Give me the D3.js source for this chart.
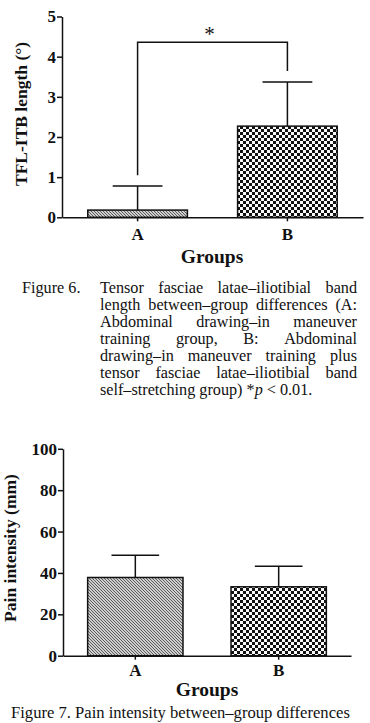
<!DOCTYPE html>
<html lang="en">
<head>
<meta charset="utf-8">
<title>TFL-ITB length and pain intensity between-group differences</title>
<script src="https://d3js.org/d3.v7.min.js"></script>
<style>
        body {
            margin: 0;
            background: #fff;
        }
        svg text {
            font-family: "Liberation Serif", "Times New Roman", serif;
            fill: #111;
        }
        .axis path,
        .axis line {
            fill: none;
            stroke: #111;
            stroke-width: 1.5;
        }
        .axis text {
            font-weight: bold;
        }
        .caption {
            font-size: 16.2px;
        }
</style>
</head>
<body>
<div id="figures"></div>
<script>

  // data
  var groups = ["A", "B"];
  var tflMean = [0.18, 2.27];
  var tflSd = [0.60, 1.10];
  var tflTicks = [0, 1, 2, 3, 4, 5];
  // bracket: left leg bottom, bracket top, right leg bottom (degrees)
  var tflBracket = [1.05, 4.36, 3.64];

  var painMean = [37.8, 33.3];
  var painSd = [10.7, 9.9];
  var painTicks = [0, 20, 40, 60, 80, 100];

  var caption6First = "Figure 6.";
  var caption6Lines = [
    "Tensor fasciae latae\u2013iliotibial band",
    "length between\u2013group differences (A:",
    "Abdominal drawing\u2013in maneuver",
    "training group, B: Abdominal",
    "drawing\u2013in maneuver training plus",
    "tensor fasciae latae\u2013iliotibial band"
  ];
  var caption7 = "Figure 7. Pain intensity between\u2013group differences";

  var patterns = ["hatch", "checks"];

  var W = 370, H = 723;

  var svg = d3.select("#figures")
    .append("svg")
      .attr("width", W)
      .attr("height", H);

  svg.append("rect")
    .attr("width", W)
    .attr("height", H)
    .attr("fill", "#fff");

  function makePatterns() {
    var defs = svg.append("defs");

    var hatch = defs.append("pattern")
      .attr("id", "hatch")
      .attr("patternUnits", "userSpaceOnUse")
      .attr("width", 3)
      .attr("height", 3);
    hatch.append("rect")
      .attr("width", 3).attr("height", 3)
      .attr("fill", "#cfcfcf");
    hatch.append("path")
      .attr("d", "M-1,-1 L4,4 M-1,2 L1,4 M2,-1 L4,1")
      .attr("stroke", "#5a5a5a")
      .attr("stroke-width", 1);

    var checks = defs.append("pattern")
      .attr("id", "checks")
      .attr("patternUnits", "userSpaceOnUse")
      .attr("width", 6)
      .attr("height", 6);
    checks.append("rect")
      .attr("width", 6).attr("height", 6)
      .attr("fill", "#fafafa");
    checks.append("rect")
      .attr("width", 3).attr("height", 3)
      .attr("fill", "#111");
    checks.append("rect")
      .attr("x", 3).attr("y", 3)
      .attr("width", 3).attr("height", 3)
      .attr("fill", "#111");
  }

  // one bar chart with error bars
  function drawChart(c) {
    var g = svg.append("g");

    var x = d3.scaleBand()
      .domain(groups)
      .range([c.left, c.right])
      .paddingInner(0.335)
      .paddingOuter(0.172);

    var y = d3.scaleLinear()
      .domain([0, c.max])
      .range([c.bottom, c.top]);

    var rows = groups.map(function(d, i) {
      return {group: d, mean: c.mean[i], sd: c.sd[i], fill: "url(#" + patterns[i] + ")"};
    });

    // error bars (upper only), drawn below the bars
    var capHalf = x.bandwidth() * 0.25;
    g.selectAll(".err")
      .data(rows)
      .enter()
      .append("path")
        .attr("class", "err")
        .attr("fill", "none")
        .attr("stroke", "#111")
        .attr("stroke-width", 1.5)
        .attr("d", function(d) {
          var cx = x(d.group) + x.bandwidth() / 2;
          var yt = y(d.mean + d.sd);
          return "M" + cx + "," + y(d.mean) + "V" + yt +
                 "M" + (cx - capHalf) + "," + yt + "H" + (cx + capHalf);
        });

    g.selectAll(".bar")
      .data(rows)
      .enter()
      .append("rect")
        .attr("class", "bar")
        .attr("x", function(d) { return x(d.group); })
        .attr("width", x.bandwidth())
        .attr("y", function(d) { return y(d.mean); })
        .attr("height", function(d) { return y(0) - y(d.mean); })
        .attr("fill", function(d) { return d.fill; })
        .attr("stroke", "#111")
        .attr("stroke-width", 1.5);

    // Y axis
    var yAxis = g.append("g")
      .attr("class", "axis")
      .attr("transform", "translate(" + c.left + ",0)")
      .call(d3.axisLeft(y)
        .tickValues(c.ticks)
        .tickFormat(d3.format("d"))
        .tickSize(5)
        .tickSizeOuter(0)
        .tickPadding(1));
    yAxis.selectAll("text")
      .style("font-size", c.tickFont + "px");

    // X axis
    var xAxis = g.append("g")
      .attr("class", "axis")
      .attr("transform", "translate(0," + c.bottom + ")")
      .call(d3.axisBottom(x).tickSize(4).tickSizeOuter(0));
    xAxis.selectAll("text")
      .attr("dy", null)
      .attr("y", c.xLabelY)
      .style("font-size", "17px");

    g.append("text")
      .attr("x", c.groupsX)
      .attr("y", c.groupsY)
      .style("text-anchor", "middle")
      .style("font-size", "19.5px")
      .style("font-weight", "bold")
      .text("Groups");

    g.append("text")
      .attr("transform", "translate(" + c.yLabelX + "," + c.yLabelY + ") rotate(-90)")
      .style("text-anchor", "middle")
      .style("font-size", "17.5px")
      .style("font-weight", "bold")
      .text(c.yLabel);

    return {g: g, x: x, y: y};
  }

  function drawBracket(chart, vals) {
    var x = chart.x, y = chart.y;
    var xa = x(groups[0]) + x.bandwidth() / 2;
    var xb = x(groups[1]) + x.bandwidth() / 2;
    chart.g.append("path")
      .attr("fill", "none")
      .attr("stroke", "#111")
      .attr("stroke-width", 1.5)
      .attr("d", "M" + xa + "," + y(vals[0]) + "V" + y(vals[1]) +
                 "H" + xb + "V" + y(vals[2]));
    chart.g.append("text")
      .attr("x", (xa + xb) / 2 - 3)
      .attr("y", y(vals[1]) - 1)
      .style("text-anchor", "middle")
      .style("font-size", "21px")
      .text("*");
  }

  function justifyLine(words, x0, x1, yb) {
    var g = svg.append("g").attr("class", "caption");
    var nodes = words.map(function(w) {
      return g.append("text").attr("y", yb).text(w);
    });
    var widths = nodes.map(function(n) { return n.node().getComputedTextLength(); });
    var gap = (x1 - x0 - d3.sum(widths)) / (words.length - 1);
    var xx = x0;
    nodes.forEach(function(n, i) {
      n.attr("x", xx);
      xx += widths[i] + gap;
    });
  }

  function drawCaption6() {
    var x0 = 100, x1 = 357, y0 = 293, lh = 17;
    svg.append("text")
      .attr("class", "caption")
      .attr("x", 22)
      .attr("y", y0)
      .text(caption6First);
    caption6Lines.forEach(function(line, i) {
      justifyLine(line.split(" "), x0, x1, y0 + i * lh);
    });
    var last = svg.append("text")
      .attr("class", "caption")
      .attr("x", x0)
      .attr("y", y0 + caption6Lines.length * lh);
    last.append("tspan").text("self\u2013stretching group) *");
    last.append("tspan").style("font-style", "italic").text("p");
    last.append("tspan").text(" < 0.01.");
  }

  makePatterns();

  var chart6 = drawChart({
    left: 62, right: 363, top: 16.5, bottom: 217.3,
    max: 5, ticks: tflTicks, mean: tflMean, sd: tflSd,
    tickFont: 17, xLabelY: 23,
    groupsX: 212, groupsY: 263,
    yLabelX: 27, yLabelY: 114,
    yLabel: "TFL-ITB length (\u00b0)"
  });
  drawBracket(chart6, tflBracket);
  drawCaption6();

  drawChart({
    left: 63, right: 351, top: 448.8, bottom: 655.7,
    max: 100, ticks: painTicks, mean: painMean, sd: painSd,
    tickFont: 17, xLabelY: 20,
    groupsX: 207, groupsY: 696,
    yLabelX: 16, yLabelY: 548,
    yLabel: "Pain intensity (mm)"
  });

  svg.append("text")
    .attr("class", "caption")
    .attr("x", 11)
    .attr("y", 718)
    .style("font-size", "16.6px")
    .text(caption7);

</script>
</body>
</html>
